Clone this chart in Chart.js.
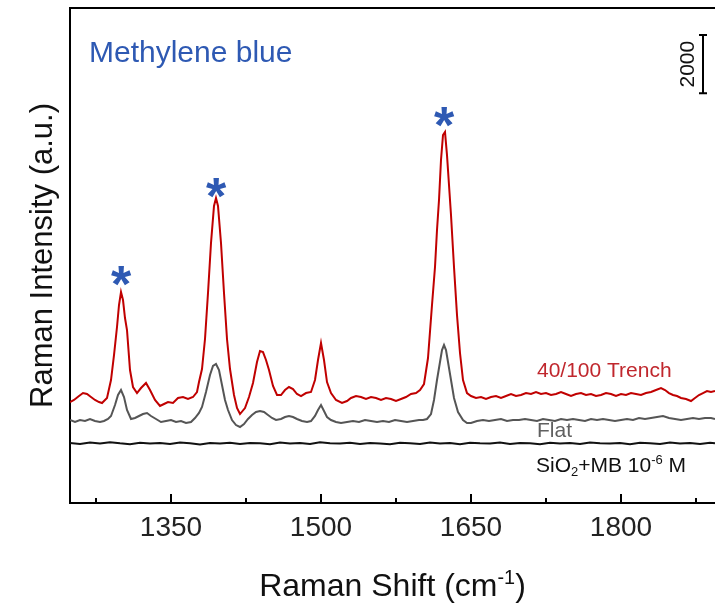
<!DOCTYPE html>
<html>
<head>
<meta charset="utf-8">
<script src="https://cdn.jsdelivr.net/npm/chart.js@4.4.1/dist/chart.umd.min.js"></script>
<style>
  html, body { margin: 0; padding: 0; background: #fff; }
  #wrap { width: 715px; height: 603px; }
</style>
</head>
<body>
<div id="wrap"><canvas id="ramanChart" width="715" height="603"></canvas></div>
<script>
// Raman shift (cm-1) / intensity (counts)
const trenchShift = [1249, 1253, 1258, 1262, 1266, 1270, 1274, 1278, 1281, 1286, 1290, 1293, 1296, 1298, 1300, 1302, 1304, 1306, 1309, 1312, 1316, 1320, 1325, 1329, 1334, 1339, 1343, 1347, 1352, 1357, 1362, 1367, 1372, 1376, 1378, 1381, 1384, 1387, 1390, 1393, 1395, 1397, 1400, 1403, 1406, 1409, 1413, 1416, 1419, 1424, 1428, 1432, 1436, 1439, 1442, 1445, 1448, 1452, 1456, 1460, 1464, 1468, 1472, 1476, 1480, 1485, 1490, 1494, 1497, 1500, 1503, 1506, 1510, 1515, 1521, 1526, 1530, 1535, 1540, 1545, 1550, 1555, 1560, 1565, 1570, 1575, 1580, 1585, 1590, 1595, 1599, 1603, 1607, 1611, 1614, 1616, 1618, 1620, 1622, 1624, 1626, 1628, 1630, 1633, 1636, 1639, 1642, 1646, 1650, 1655, 1660, 1665, 1670, 1675, 1680, 1685, 1690, 1695, 1700, 1705, 1710, 1715, 1720, 1725, 1730, 1735, 1740, 1745, 1750, 1755, 1760, 1765, 1770, 1775, 1780, 1785, 1790, 1795, 1800, 1805, 1810, 1815, 1820, 1825, 1830, 1835, 1840, 1844, 1848, 1852, 1856, 1860, 1865, 1870, 1874, 1878, 1882, 1886, 1890, 1894];
const trenchIntensity = [3468, 3537, 3674, 3777, 3743, 3640, 3537, 3468, 3434, 3606, 4224, 5082, 6044, 6799, 7246, 6971, 6353, 5941, 4567, 3983, 3777, 3949, 4121, 3880, 3537, 3331, 3400, 3468, 3434, 3606, 3640, 3571, 3640, 3812, 4155, 4602, 5632, 7211, 8928, 10199, 10474, 10199, 8928, 7211, 5632, 4602, 3709, 3262, 3056, 3262, 3640, 4121, 4842, 5220, 5185, 4911, 4567, 4018, 3709, 3709, 3880, 3983, 3915, 3743, 3674, 3777, 3812, 4224, 4911, 5494, 4911, 4155, 3777, 3537, 3434, 3503, 3606, 3674, 3640, 3571, 3640, 3606, 3537, 3606, 3571, 3503, 3571, 3640, 3743, 3777, 3880, 4086, 4979, 6799, 8104, 9375, 10405, 11779, 12637, 12740, 11950, 10920, 9890, 8104, 6456, 5151, 4224, 3777, 3674, 3606, 3640, 3571, 3640, 3674, 3606, 3674, 3743, 3674, 3709, 3777, 3743, 3812, 3743, 3777, 3709, 3743, 3812, 3743, 3674, 3743, 3777, 3709, 3743, 3674, 3709, 3777, 3743, 3674, 3743, 3709, 3777, 3743, 3709, 3777, 3812, 3880, 3949, 3880, 3777, 3709, 3674, 3606, 3571, 3503, 3606, 3709, 3777, 3846, 3812, 3846];

const flatShift = [1249, 1254, 1259, 1264, 1269, 1274, 1279, 1283, 1287, 1290, 1294, 1297, 1300, 1303, 1306, 1310, 1314, 1318, 1322, 1326, 1330, 1335, 1340, 1345, 1350, 1355, 1360, 1365, 1370, 1374, 1378, 1381, 1385, 1389, 1392, 1395, 1398, 1401, 1404, 1407, 1411, 1415, 1419, 1423, 1427, 1431, 1435, 1439, 1443, 1447, 1451, 1455, 1460, 1464, 1468, 1472, 1476, 1481, 1486, 1490, 1494, 1497, 1500, 1503, 1506, 1510, 1515, 1520, 1526, 1532, 1538, 1544, 1550, 1556, 1562, 1568, 1574, 1580, 1586, 1592, 1598, 1602, 1606, 1610, 1613, 1616, 1619, 1621, 1623, 1625, 1627, 1630, 1633, 1637, 1642, 1646, 1650, 1656, 1662, 1668, 1674, 1680, 1686, 1692, 1698, 1704, 1710, 1716, 1722, 1728, 1734, 1740, 1746, 1752, 1758, 1764, 1770, 1776, 1782, 1788, 1794, 1800, 1806, 1812, 1818, 1824, 1830, 1836, 1842, 1848, 1854, 1860, 1866, 1872, 1878, 1884, 1890, 1894];
const flatIntensity = [2850, 2782, 2850, 2816, 2885, 2816, 2782, 2816, 2885, 2988, 3365, 3709, 3880, 3640, 3194, 2885, 2919, 2988, 3056, 3091, 2988, 2885, 2782, 2816, 2850, 2782, 2816, 2747, 2782, 2919, 3091, 3297, 3812, 4395, 4705, 4773, 4567, 4052, 3537, 3194, 2850, 2678, 2610, 2713, 2885, 3022, 3125, 3159, 3125, 3022, 2919, 2850, 2885, 2953, 2988, 2953, 2885, 2816, 2782, 2816, 2988, 3194, 3365, 3159, 2953, 2850, 2782, 2747, 2782, 2816, 2782, 2850, 2816, 2782, 2816, 2782, 2850, 2816, 2782, 2816, 2850, 2850, 2885, 3056, 3537, 4224, 4842, 5254, 5426, 5254, 4842, 4224, 3606, 3125, 2850, 2747, 2747, 2816, 2850, 2816, 2850, 2885, 2816, 2850, 2850, 2885, 2850, 2816, 2885, 2850, 2816, 2885, 2850, 2885, 2850, 2816, 2885, 2850, 2885, 2850, 2816, 2850, 2885, 2850, 2919, 2885, 2919, 2953, 2988, 2919, 2885, 2850, 2885, 2919, 2885, 2919, 2919, 2885];

const refShift = [1249, 1259, 1269, 1279, 1289, 1299, 1309, 1319, 1329, 1339, 1349, 1359, 1369, 1379, 1389, 1399, 1409, 1419, 1429, 1439, 1449, 1459, 1469, 1479, 1489, 1499, 1509, 1519, 1529, 1539, 1549, 1559, 1569, 1579, 1589, 1599, 1609, 1619, 1629, 1639, 1649, 1659, 1669, 1679, 1689, 1699, 1709, 1719, 1729, 1739, 1749, 1759, 1769, 1779, 1789, 1799, 1809, 1819, 1829, 1839, 1849, 1859, 1869, 1879, 1889, 1894];
const refIntensity = [2060, 2030, 2080, 2040, 2090, 2050, 2020, 2070, 2040, 2060, 2030, 2080, 2050, 2010, 2060, 2040, 2070, 2030, 2060, 2050, 2020, 2080, 2040, 2060, 2030, 2090, 2050, 2040, 2070, 2030, 2060, 2040, 2020, 2070, 2050, 2030, 2080, 2040, 2060, 2020, 2070, 2050, 2040, 2080, 2030, 2060, 2050, 2020, 2070, 2040, 2060, 2030, 2080, 2050, 2040, 2060, 2020, 2070, 2050, 2030, 2080, 2040, 2060, 2030, 2070, 2050];

// peak markers (*) and annotation anchors
const markerShift = [1300, 1395, 1623];
const markerIntensity = [7795, 10817, 13255];
const xTickLabels = [1350, 1500, 1650, 1800];
const scaleBarValue = 2000;

function zip(xs, ys) {
    return xs.map(function (x, i) { return {x: x, y: ys[i]}; });
}

const FONT = "Arial, 'Liberation Sans', sans-serif";

// draw text pieces with sub/superscripts
function drawRich(ctx, parts, x, y, size) {
    parts.forEach(function (p) {
        const s = p.small ? size * 0.62 : size;
        ctx.font = s + 'px ' + FONT;
        const dy = p.sup ? -size * 0.38 : (p.sub ? size * 0.18 : 0);
        ctx.fillText(p.t, x, y + dy);
        x += ctx.measureText(p.t).width;
    });
    return x;
}
function richWidth(ctx, parts, size) {
    let w = 0;
    parts.forEach(function (p) {
        ctx.font = (p.small ? size * 0.62 : size) + 'px ' + FONT;
        w += ctx.measureText(p.t).width;
    });
    return w;
}

const decorPlugin = {
    id: 'decor',
    afterDraw: function (chart) {
        const ctx = chart.ctx;
        const xs = chart.scales.x, ys = chart.scales.y;
        const area = chart.chartArea;
        ctx.save();

        // top frame line
        ctx.strokeStyle = '#000';
        ctx.lineWidth = 2;
        ctx.beginPath();
        ctx.moveTo(area.left, area.top);
        ctx.lineTo(area.right, area.top);
        ctx.stroke();

        // inward tick marks on x axis
        xs.ticks.forEach(function (t) {
            const px = xs.getPixelForValue(t.value);
            const len = xTickLabels.indexOf(t.value) >= 0 ? 9 : 5;
            ctx.beginPath();
            ctx.moveTo(px, area.bottom);
            ctx.lineTo(px, area.bottom - len);
            ctx.stroke();
        });

        // peak asterisks
        ctx.fillStyle = '#2E59B3';
        ctx.font = 'bold 52px ' + FONT;
        ctx.textAlign = 'center';
        ctx.textBaseline = 'alphabetic';
        const m = ctx.measureText('*');
        const mid = (m.actualBoundingBoxAscent - m.actualBoundingBoxDescent) / 2;
        markerShift.forEach(function (v, i) {
            ctx.fillText('*', xs.getPixelForValue(v), ys.getPixelForValue(markerIntensity[i]) + mid);
        });

        // title inside plot
        ctx.textAlign = 'left';
        ctx.font = '30px ' + FONT;
        ctx.fillText('Methylene blue', 89, 62);

        // series labels
        ctx.font = '21px ' + FONT;
        ctx.fillStyle = '#C0272D';
        ctx.fillText('40/100 Trench', 537, 377);
        ctx.fillStyle = '#606060';
        ctx.fillText('Flat', 537, 437);
        ctx.fillStyle = '#111';
        drawRich(ctx, [
            {t: 'SiO'}, {t: '2', small: true, sub: true}, {t: '+MB 10'},
            {t: '-6', small: true, sup: true}, {t: ' M'}
        ], 536, 472, 21);

        // intensity scale bar
        const barX = 703;
        const barTop = ys.getPixelForValue(16071);
        const barBot = ys.getPixelForValue(16071 - scaleBarValue);
        ctx.strokeStyle = '#000';
        ctx.lineWidth = 2;
        ctx.beginPath();
        ctx.moveTo(barX, barTop); ctx.lineTo(barX, barBot);
        ctx.moveTo(barX - 4, barTop); ctx.lineTo(barX + 4, barTop);
        ctx.moveTo(barX - 4, barBot); ctx.lineTo(barX + 4, barBot);
        ctx.stroke();
        ctx.save();
        ctx.translate(688, (barTop + barBot) / 2);
        ctx.rotate(-Math.PI / 2);
        ctx.fillStyle = '#111';
        ctx.font = '21px ' + FONT;
        ctx.textAlign = 'center';
        ctx.textBaseline = 'middle';
        ctx.fillText(String(scaleBarValue), 0, 0);
        ctx.restore();

        // axis titles
        ctx.fillStyle = '#111';
        ctx.textBaseline = 'alphabetic';
        ctx.textAlign = 'left';
        const xt = [{t: 'Raman Shift (cm'}, {t: '-1', small: true, sup: true}, {t: ')'}];
        const xw = richWidth(ctx, xt, 32);
        drawRich(ctx, xt, (area.left + area.right) / 2 - xw / 2, 596, 32);

        ctx.save();
        ctx.translate(52, (area.top + area.bottom) / 2);
        ctx.rotate(-Math.PI / 2);
        ctx.font = '31px ' + FONT;
        ctx.textAlign = 'center';
        ctx.fillText('Raman Intensity (a.u.)', 0, 0);
        ctx.restore();

        ctx.restore();
    }
};

const ramanConfig = {
    type: 'line',
    data: {
        datasets: [
            {label: 'SiO2+MB 10-6 M', data: zip(refShift, refIntensity), borderColor: '#111111', borderWidth: 2},
            {label: 'Flat', data: zip(flatShift, flatIntensity), borderColor: '#555555', borderWidth: 2},
            {label: '40/100 Trench', data: zip(trenchShift, trenchIntensity), borderColor: '#C00000', borderWidth: 2}
        ]
    },
    options: {
        responsive: false,
        animation: false,
        devicePixelRatio: 1,
        layout: {padding: {top: 8, right: 0, bottom: 0, left: 0}},
        elements: {
            point: {radius: 0},
            line: {tension: 0, fill: false}
        },
        plugins: {
            legend: {display: false},
            tooltip: {enabled: false}
        },
        scales: {
            x: {
                type: 'linear',
                min: 1249,
                max: 1894,
                afterFit: function (scale) { scale.height = 100; },
                grid: {display: false, drawTicks: false},
                border: {display: true, color: '#000', width: 2},
                ticks: {
                    stepSize: 75,
                    includeBounds: false,
                    autoSkip: false,
                    maxRotation: 0,
                    padding: 8,
                    color: '#222',
                    font: {family: FONT, size: 28},
                    callback: function (v) { return xTickLabels.indexOf(v) >= 0 ? String(v) : ''; }
                }
            },
            y: {
                min: 0,
                max: 17000,
                afterFit: function (scale) { scale.width = 70; },
                grid: {display: false, drawTicks: false},
                border: {display: true, color: '#000', width: 2},
                ticks: {display: false}
            }
        }
    },
    plugins: [decorPlugin]
};

const ramanCtx = document.getElementById('ramanChart').getContext('2d');
window.ramanChart = new Chart(ramanCtx, ramanConfig);
</script>
</body>
</html>
